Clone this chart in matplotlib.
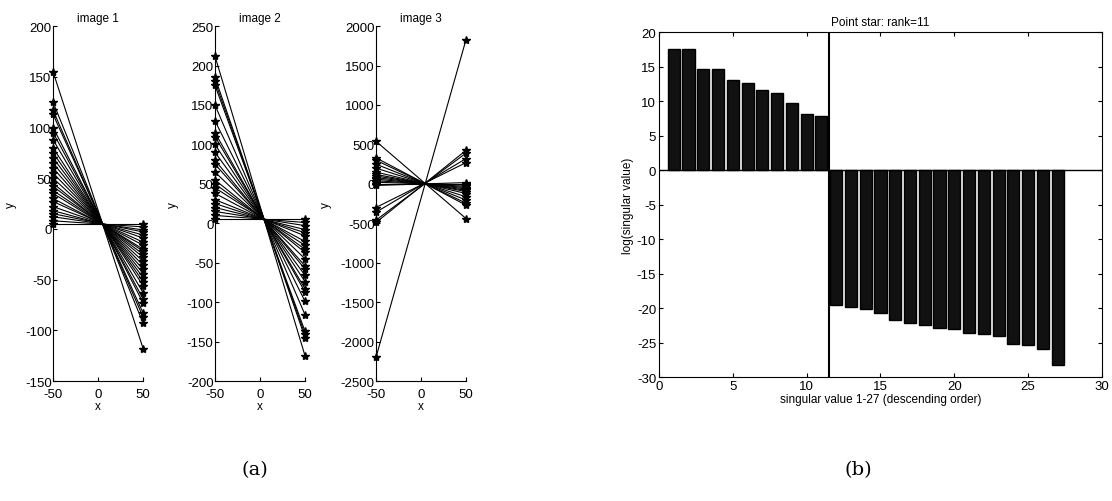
import numpy as np
import matplotlib.pyplot as plt

plt.rcParams['font.family'] = ['Liberation Sans', 'DejaVu Sans']
plt.rcParams['axes.unicode_minus'] = False

# line end points at x=-50 (left) and x=50 (right)
x_ends = [-50, 50]

img1_left = [155, 125, 117, 113, 100, 95, 88, 80, 75, 70, 65, 60, 55, 50, 45,
             42, 38, 35, 30, 27, 22, 18, 15, 12, 8, 5]
img1_right = [-118, -93, -87, -83, -73, -69, -63, -56, -52, -48, -44, -40, -36,
              -32, -28, -25, -22, -20, -16, -13, -9, -6, -3, -1, 2, 5]

img2_left = [212, 185, 180, 175, 150, 130, 115, 110, 100, 90, 80, 75, 65, 55,
             50, 45, 38, 30, 25, 20, 15, 10, 5]
img2_right = [-168, -145, -141, -137, -116, -99, -87, -83, -74, -66, -58, -54,
              -45, -37, -33, -28, -23, -16, -12, -8, -3, 1, 5]

img3_left = [-2200, 540, 330, 300, 250, 200, 150, 120, 100, 80, 60, 40, 20, 0,
             -20, -300, -360, -460, -490]
img3_right = [1830, -440, -270, -245, -205, -164, -123, -98, -82, -65, -49,
              -33, -16, 0, 16, 270, 320, 390, 425]

# singular values (log) for the bar chart
sv_index = np.arange(1, 28)
sv_log = [17.5, 17.5, 14.7, 14.6, 13.0, 12.6, 11.6, 11.2, 9.7, 8.2, 7.9,
          -19.6, -19.9, -20.2, -20.7, -21.8, -22.2, -22.4, -22.9, -23.1,
          -23.6, -23.8, -24.1, -25.2, -25.4, -26.0, -28.3]
rank = 11

fig = plt.figure(figsize=(11.12, 5.02), dpi=100)

panels = [
    ('image 1', img1_left, img1_right, [-150, 200], 50, 0.0477),
    ('image 2', img2_left, img2_right, [-200, 250], 50, 0.1933),
    ('image 3', img3_left, img3_right, [-2500, 2000], 500, 0.3381),
]

for title, left, right, ylim, step, x0 in panels:
    ax = fig.add_axes([x0, 0.239, 0.081, 0.707])
    for a, b in zip(left, right):
        ax.plot(x_ends, [a, b], color='black', linewidth=0.8,
                marker='*', markersize=6, clip_on=False)
    ax.set_xlim(-50, 50)
    ax.set_ylim(ylim)
    ax.set_xticks([-50, 0, 50])
    ax.set_yticks(np.arange(ylim[0], ylim[1] + 1, step))
    ax.spines['top'].set_visible(False)
    ax.spines['right'].set_visible(False)
    ax.tick_params(direction='in', length=3, labelsize=9.5, pad=1)
    ax.tick_params(axis='x', pad=5)
    ax.set_title(title, fontsize=8.5, pad=4)
    ax.set_xlabel('x', fontsize=8.5, labelpad=0)
    ax.set_ylabel('y', fontsize=8.5, labelpad=6)

# bar chart of singular values
ax = fig.add_axes([0.5926, 0.247, 0.3984, 0.687])
ax.bar(sv_index, sv_log, width=0.82, color='#111111', edgecolor='black')
ax.axhline(0, color='black', linewidth=1)
ax.axvline(rank + 0.5, color='black', linewidth=1.5)
ax.set_xlim(0, 30)
ax.set_ylim(-30, 20)
ax.set_xticks(np.arange(0, 31, 5))
ax.set_yticks(np.arange(-30, 21, 5))
ax.tick_params(direction='in', length=3, labelsize=9.5, top=True, right=True, pad=2)
ax.set_title('Point star: rank=%d' % rank, fontsize=8.5, pad=5)
ax.set_xlabel('singular value 1-27 (descending order)', fontsize=8.5, labelpad=1)
ax.set_ylabel('log(singular value)', fontsize=8.5, labelpad=2)

fig.text(255 / 1112, 1 - 470 / 502, '(a)', family='DejaVu Serif', fontsize=14,
         ha='center', va='center')
fig.text(858 / 1112, 1 - 470 / 502, '(b)', family='DejaVu Serif', fontsize=14,
         ha='center', va='center')

plt.savefig('out.png', dpi=100)
